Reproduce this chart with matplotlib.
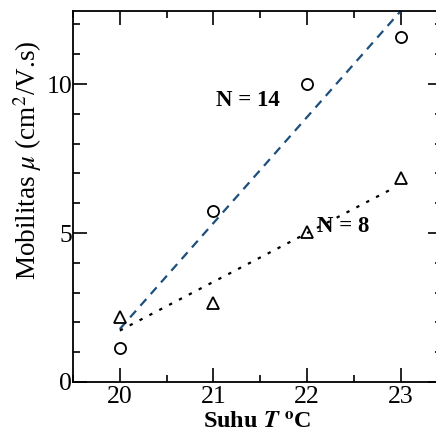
import numpy as np
import matplotlib
matplotlib.use("Agg")
import matplotlib.pyplot as plt
from matplotlib.ticker import MultipleLocator

plt.rcParams['font.family'] = ['Liberation Serif', 'DejaVu Serif']
plt.rcParams['mathtext.fontset'] = 'stix'

temps = [20, 21, 22, 23]
mob_n14 = [1.14, 5.74, 10.0, 11.58]
mob_n8 = [2.19, 2.65, 5.03, 6.85]

fig = plt.figure(figsize=(4.36, 4.34), dpi=100)
ax = fig.add_axes([73/436, 1-382/434, (442-73)/436, (382-11)/434])

ax.plot(temps, mob_n14, 'o', mfc='none', mec='black', ms=8, mew=1.3, zorder=3)
ax.plot(temps, mob_n8, '^', mfc='none', mec='black', ms=8.5, mew=1.3, zorder=3)

x = np.array(temps, dtype=float)
p14 = np.polyfit(x, mob_n14, 1)
p8 = np.polyfit(x, mob_n8, 1)
ax.plot(x, np.polyval(p14, x), '--', color='#1c4f7c', lw=1.6, dashes=(4, 3))
ax.plot([20, 22.94], np.polyval(p8, np.array([20, 22.94])), ':', color='black', lw=1.6, dashes=(1.5, 3.5))

ax.text(21.37, 9.46, 'N = 14', fontsize=16.5, fontweight='bold', ha='center', va='center')
ax.text(22.1, 5.23, 'N = 8', fontsize=16.5, fontweight='bold', ha='left', va='center')

ax.set_xlim(19.5, 23.44)
ax.set_ylim(0, 12.45)
ax.xaxis.set_major_locator(MultipleLocator(1))
ax.xaxis.set_minor_locator(MultipleLocator(0.5))
ax.yaxis.set_major_locator(MultipleLocator(5))
ax.yaxis.set_minor_locator(MultipleLocator(1))
ax.tick_params(which='both', direction='in', top=True, right=True, width=1.2)
ax.tick_params(which='major', length=10, labelsize=18.5)
ax.tick_params(axis='x', which='major', pad=3)
ax.tick_params(axis='y', which='major', pad=0.5)
ax.tick_params(which='minor', length=5)
ax.set_xticks([20, 21, 22, 23])
for s in ax.spines.values():
    s.set_linewidth(1.3)

ax.set_xlabel(r'Suhu $\boldsymbol{T}$ $^{\mathbf{o}}$C', fontsize=17.5, fontweight='bold', labelpad=3)
ax.set_ylabel(r'Mobilitas $\mu$ (cm$^2$/V.s)', fontsize=19.5)
ax.yaxis.set_label_coords((44-73)/369, (382-160)/371)

fig.savefig('out.png', dpi=100)
